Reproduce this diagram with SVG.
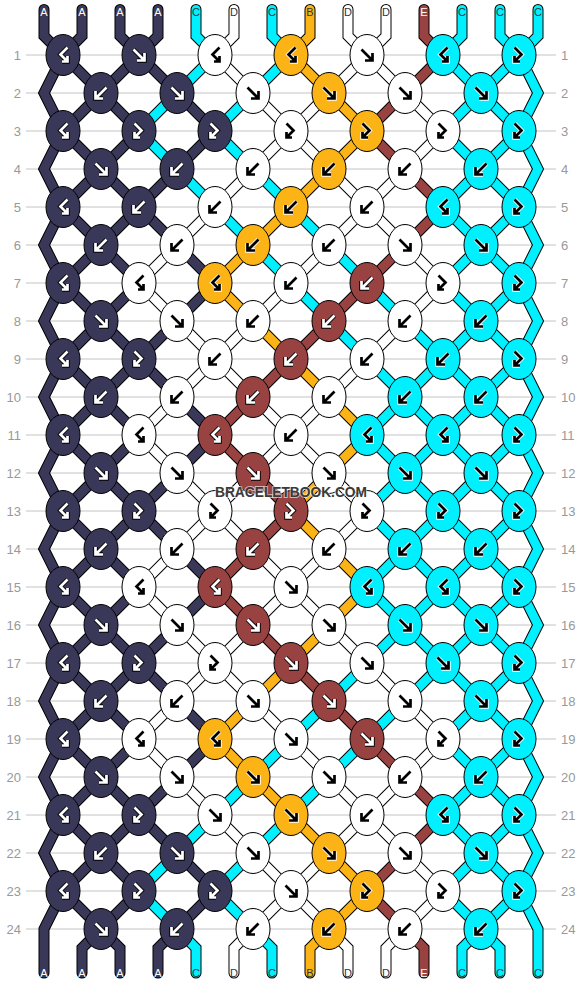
<svg xmlns="http://www.w3.org/2000/svg" xmlns:xlink="http://www.w3.org/1999/xlink" width="582" height="984" viewBox="0 0 582 984">
<style>
.ln{fill:none;stroke:#c4c4c4;stroke-width:1}
.num{font-family:"Liberation Sans",Arial,sans-serif;font-size:13px;fill:#999}
.ne{text-anchor:end}
.o{fill:none;stroke:#000;stroke-width:11;stroke-linejoin:miter;stroke-linecap:round}
.f{fill:none;stroke-width:9;stroke-linejoin:miter;stroke-linecap:round}
.cA{stroke:#3a3858}.cC{stroke:#00f0ff}.cD{stroke:#fff}.cB{stroke:#fcb316}.cE{stroke:#984242}
.k{stroke:#000;stroke-width:1}
.kA{fill:#3a3858}.kC{fill:#00f0ff}.kD{fill:#fff}.kB{fill:#fcb316}.kE{fill:#984242}
.aw{fill:none;stroke:#fff;stroke-width:2.7}
.ab{fill:none;stroke:#000;stroke-width:4.5}
.ak{fill:none;stroke:#000;stroke-width:2.7}
.awo{fill:none;stroke:#fff;stroke-width:4.5}
.lb{font-family:"Liberation Sans",Arial,sans-serif;font-size:11px;text-anchor:middle}
.lw{fill:#fff}.lk{fill:#333}
.wm{font-family:"Liberation Sans",Arial,sans-serif;font-weight:bold;font-size:14px;text-anchor:middle;fill:#3a3a3a;stroke:#fff;stroke-width:2;stroke-opacity:0.6;paint-order:stroke}
</style>
<defs>
<ellipse id="eA" class="k kA" rx="17" ry="20.5"/>
<ellipse id="eC" class="k kC" rx="17" ry="20.5"/>
<ellipse id="eD" class="k kD" rx="17" ry="20.5"/>
<ellipse id="eB" class="k kB" rx="17" ry="20.5"/>
<ellipse id="eE" class="k kE" rx="17" ry="20.5"/>
<path id="pF" d="M-5.5-5.5L5.5 5.5M5.5-2V5.5H-2"/>
<path id="pB" d="M5.5-5.5L-5.5 5.5M-5.5-2V5.5H2"/>
<path id="pFB" d="M-4.5-7.5L2.5-0.5L-4.5 6.5M-4.5 1V6.5H1"/>
<path id="pBF" d="M4.5-7.5L-2.5-0.5L4.5 6.5M4.5 1V6.5H-1"/>
<g id="Fw"><use href="#pF" class="ab"/><use href="#pF" class="aw"/></g>
<g id="Bw"><use href="#pB" class="ab"/><use href="#pB" class="aw"/></g>
<g id="FBw"><use href="#pFB" class="ab"/><use href="#pFB" class="aw"/></g>
<g id="BFw"><use href="#pBF" class="ab"/><use href="#pBF" class="aw"/></g>
<g id="Fk"><use href="#pF" class="awo"/><use href="#pF" class="ak"/></g>
<g id="Bk"><use href="#pB" class="awo"/><use href="#pB" class="ak"/></g>
<g id="FBk"><use href="#pFB" class="awo"/><use href="#pFB" class="ak"/></g>
<g id="BFk"><use href="#pBF" class="awo"/><use href="#pBF" class="ak"/></g>
<polyline id="t0" points="44,9.5 44,36 63,55 44,93 63,131 44,169 63,207 44,245 63,283 44,321 63,359 44,397 63,435 44,473 63,511 44,549 63,587 44,625 63,663 44,701 63,739 44,777 63,815 44,853 63,891 44,929 44,973"/>
<polyline id="t1" points="82,9.5 82,36 63,55 101,93 139,131 101,169 63,207 101,245 139,283 101,321 63,359 101,397 139,435 101,473 63,511 101,549 139,587 101,625 63,663 101,701 139,739 101,777 63,815 101,853 139,891 101,929 82,948 82,973"/>
<polyline id="t2" points="120,9.5 120,36 139,55 177,93 215,131 177,169 139,207 101,245 63,283 101,321 139,359 101,397 63,435 101,473 139,511 101,549 63,587 101,625 139,663 101,701 63,739 101,777 139,815 101,853 63,891 101,929 120,948 120,973"/>
<polyline id="t3" points="158,9.5 158,36 139,55 101,93 63,131 101,169 139,207 177,245 215,283 177,321 139,359 177,397 215,435 177,473 139,511 177,549 215,587 177,625 139,663 177,701 215,739 177,777 139,815 177,853 215,891 177,929 158,948 158,973"/>
<polyline id="t4" points="196,9.5 196,36 215,55 177,93 139,131 177,169 215,207 253,245 291,283 329,321 367,359 405,397 443,435 405,473 367,511 405,549 443,587 405,625 367,663 329,701 291,739 253,777 215,815 177,853 139,891 177,929 196,948 196,973"/>
<polyline id="t5" points="234,9.5 234,36 215,55 253,93 291,131 253,169 215,207 177,245 139,283 177,321 215,359 253,397 291,435 329,473 367,511 329,549 291,587 253,625 215,663 253,701 291,739 329,777 367,815 405,853 443,891 405,929 386,948 386,973"/>
<polyline id="t6" points="272,9.5 272,36 291,55 253,93 215,131 253,169 291,207 329,245 367,283 405,321 443,359 481,397 519,435 481,473 443,511 481,549 519,587 481,625 443,663 405,701 367,739 329,777 291,815 253,853 215,891 253,929 272,948 272,973"/>
<polyline id="t7" points="310,9.5 310,36 291,55 329,93 367,131 329,169 291,207 253,245 215,283 253,321 291,359 329,397 367,435 329,473 291,511 329,549 367,587 329,625 291,663 253,701 215,739 253,777 291,815 329,853 367,891 329,929 310,948 310,973"/>
<polyline id="t8" points="348,9.5 348,36 367,55 405,93 443,131 405,169 367,207 329,245 291,283 253,321 215,359 177,397 139,435 177,473 215,511 177,549 139,587 177,625 215,663 177,701 139,739 177,777 215,815 253,853 291,891 329,929 348,948 348,973"/>
<polyline id="t9" points="386,9.5 386,36 367,55 329,93 291,131 329,169 367,207 405,245 443,283 405,321 367,359 329,397 291,435 253,473 215,511 253,549 291,587 329,625 367,663 405,701 443,739 405,777 367,815 329,853 291,891 253,929 234,948 234,973"/>
<polyline id="t10" points="424,9.5 424,36 443,55 405,93 367,131 405,169 443,207 405,245 367,283 329,321 291,359 253,397 215,435 253,473 291,511 253,549 215,587 253,625 291,663 329,701 367,739 405,777 443,815 405,853 367,891 405,929 424,948 424,973"/>
<polyline id="t11" points="462,9.5 462,36 443,55 481,93 519,131 481,169 443,207 481,245 519,283 481,321 443,359 405,397 367,435 405,473 443,511 405,549 367,587 405,625 443,663 481,701 519,739 481,777 443,815 481,853 519,891 481,929 462,948 462,973"/>
<polyline id="t12" points="500,9.5 500,36 519,55 481,93 443,131 481,169 519,207 481,245 443,283 481,321 519,359 481,397 443,435 481,473 519,511 481,549 443,587 481,625 519,663 481,701 443,739 481,777 519,815 481,853 443,891 481,929 500,948 500,973"/>
<polyline id="t13" points="538,9.5 538,36 519,55 538,93 519,131 538,169 519,207 538,245 519,283 538,321 519,359 538,397 519,435 538,473 519,511 538,549 519,587 538,625 519,663 538,701 519,739 538,777 519,815 538,853 519,891 538,929 538,973"/>
</defs>
<rect width="582" height="984" fill="#fff"/>
<path class="ln" d="M26 55H556M26 93H556M26 131H556M26 169H556M26 207H556M26 245H556M26 283H556M26 321H556M26 359H556M26 397H556M26 435H556M26 473H556M26 511H556M26 549H556M26 587H556M26 625H556M26 663H556M26 701H556M26 739H556M26 777H556M26 815H556M26 853H556M26 891H556M26 929H556"/>
<g id="rownumbers">
<text class="num ne" x="21" y="59.5">1</text><text class="num" x="561" y="59.5">1</text>
<text class="num ne" x="21" y="97.5">2</text><text class="num" x="561" y="97.5">2</text>
<text class="num ne" x="21" y="135.5">3</text><text class="num" x="561" y="135.5">3</text>
<text class="num ne" x="21" y="173.5">4</text><text class="num" x="561" y="173.5">4</text>
<text class="num ne" x="21" y="211.5">5</text><text class="num" x="561" y="211.5">5</text>
<text class="num ne" x="21" y="249.5">6</text><text class="num" x="561" y="249.5">6</text>
<text class="num ne" x="21" y="287.5">7</text><text class="num" x="561" y="287.5">7</text>
<text class="num ne" x="21" y="325.5">8</text><text class="num" x="561" y="325.5">8</text>
<text class="num ne" x="21" y="363.5">9</text><text class="num" x="561" y="363.5">9</text>
<text class="num ne" x="21" y="401.5">10</text><text class="num" x="561" y="401.5">10</text>
<text class="num ne" x="21" y="439.5">11</text><text class="num" x="561" y="439.5">11</text>
<text class="num ne" x="21" y="477.5">12</text><text class="num" x="561" y="477.5">12</text>
<text class="num ne" x="21" y="515.5">13</text><text class="num" x="561" y="515.5">13</text>
<text class="num ne" x="21" y="553.5">14</text><text class="num" x="561" y="553.5">14</text>
<text class="num ne" x="21" y="591.5">15</text><text class="num" x="561" y="591.5">15</text>
<text class="num ne" x="21" y="629.5">16</text><text class="num" x="561" y="629.5">16</text>
<text class="num ne" x="21" y="667.5">17</text><text class="num" x="561" y="667.5">17</text>
<text class="num ne" x="21" y="705.5">18</text><text class="num" x="561" y="705.5">18</text>
<text class="num ne" x="21" y="743.5">19</text><text class="num" x="561" y="743.5">19</text>
<text class="num ne" x="21" y="781.5">20</text><text class="num" x="561" y="781.5">20</text>
<text class="num ne" x="21" y="819.5">21</text><text class="num" x="561" y="819.5">21</text>
<text class="num ne" x="21" y="857.5">22</text><text class="num" x="561" y="857.5">22</text>
<text class="num ne" x="21" y="895.5">23</text><text class="num" x="561" y="895.5">23</text>
<text class="num ne" x="21" y="933.5">24</text><text class="num" x="561" y="933.5">24</text>
</g>
<g id="connectors">
<use href="#t0" class="o"/><use href="#t1" class="o"/><use href="#t2" class="o"/><use href="#t3" class="o"/><use href="#t4" class="o"/><use href="#t5" class="o"/><use href="#t6" class="o"/><use href="#t7" class="o"/><use href="#t8" class="o"/><use href="#t9" class="o"/><use href="#t10" class="o"/><use href="#t11" class="o"/><use href="#t12" class="o"/><use href="#t13" class="o"/>
<use href="#t0" class="f cA"/><use href="#t1" class="f cA"/><use href="#t2" class="f cA"/><use href="#t3" class="f cA"/><use href="#t4" class="f cC"/><use href="#t5" class="f cD"/><use href="#t6" class="f cC"/><use href="#t7" class="f cB"/><use href="#t8" class="f cD"/><use href="#t9" class="f cD"/><use href="#t10" class="f cE"/><use href="#t11" class="f cC"/><use href="#t12" class="f cC"/><use href="#t13" class="f cC"/>
</g>
<g id="labels">
<text class="lb lw" x="44" y="16">A</text><text class="lb lw" x="82" y="16">A</text><text class="lb lw" x="120" y="16">A</text><text class="lb lw" x="158" y="16">A</text><text class="lb lk" x="196" y="16">C</text><text class="lb lk" x="234" y="16">D</text><text class="lb lk" x="272" y="16">C</text><text class="lb lk" x="310" y="16">B</text><text class="lb lk" x="348" y="16">D</text><text class="lb lk" x="386" y="16">D</text><text class="lb lw" x="424" y="16">E</text><text class="lb lk" x="462" y="16">C</text><text class="lb lk" x="500" y="16">C</text><text class="lb lk" x="538" y="16">C</text>
<text class="lb lw" x="44" y="976.5">A</text><text class="lb lw" x="82" y="976.5">A</text><text class="lb lw" x="120" y="976.5">A</text><text class="lb lw" x="158" y="976.5">A</text><text class="lb lk" x="196" y="976.5">C</text><text class="lb lk" x="234" y="976.5">D</text><text class="lb lk" x="272" y="976.5">C</text><text class="lb lk" x="310" y="976.5">B</text><text class="lb lk" x="348" y="976.5">D</text><text class="lb lk" x="386" y="976.5">D</text><text class="lb lw" x="424" y="976.5">E</text><text class="lb lk" x="462" y="976.5">C</text><text class="lb lk" x="500" y="976.5">C</text><text class="lb lk" x="538" y="976.5">C</text>
</g>
<g id="knots">
<g id="k1-1" transform="translate(63 55)"><use href="#eA"/><use href="#BFw"/></g>
<g id="k1-2" transform="translate(139 55)"><use href="#eA"/><use href="#Fw"/></g>
<g id="k1-3" transform="translate(215 55)"><use href="#eD"/><use href="#BFk"/></g>
<g id="k1-4" transform="translate(291 55)"><use href="#eB"/><use href="#BFk"/></g>
<g id="k1-5" transform="translate(367 55)"><use href="#eD"/><use href="#Fk"/></g>
<g id="k1-6" transform="translate(443 55)"><use href="#eC"/><use href="#BFk"/></g>
<g id="k1-7" transform="translate(519 55)"><use href="#eC"/><use href="#FBk"/></g>
<g id="k2-1" transform="translate(101 93)"><use href="#eA"/><use href="#Bw"/></g>
<g id="k2-2" transform="translate(177 93)"><use href="#eA"/><use href="#Fw"/></g>
<g id="k2-3" transform="translate(253 93)"><use href="#eD"/><use href="#Fk"/></g>
<g id="k2-4" transform="translate(329 93)"><use href="#eB"/><use href="#Fk"/></g>
<g id="k2-5" transform="translate(405 93)"><use href="#eD"/><use href="#Fk"/></g>
<g id="k2-6" transform="translate(481 93)"><use href="#eC"/><use href="#Fk"/></g>
<g id="k3-1" transform="translate(63 131)"><use href="#eA"/><use href="#BFw"/></g>
<g id="k3-2" transform="translate(139 131)"><use href="#eA"/><use href="#FBw"/></g>
<g id="k3-3" transform="translate(215 131)"><use href="#eA"/><use href="#FBw"/></g>
<g id="k3-4" transform="translate(291 131)"><use href="#eD"/><use href="#FBk"/></g>
<g id="k3-5" transform="translate(367 131)"><use href="#eB"/><use href="#FBk"/></g>
<g id="k3-6" transform="translate(443 131)"><use href="#eD"/><use href="#FBk"/></g>
<g id="k3-7" transform="translate(519 131)"><use href="#eC"/><use href="#FBk"/></g>
<g id="k4-1" transform="translate(101 169)"><use href="#eA"/><use href="#Fw"/></g>
<g id="k4-2" transform="translate(177 169)"><use href="#eA"/><use href="#Bw"/></g>
<g id="k4-3" transform="translate(253 169)"><use href="#eD"/><use href="#Bk"/></g>
<g id="k4-4" transform="translate(329 169)"><use href="#eB"/><use href="#Bk"/></g>
<g id="k4-5" transform="translate(405 169)"><use href="#eD"/><use href="#Bk"/></g>
<g id="k4-6" transform="translate(481 169)"><use href="#eC"/><use href="#Bk"/></g>
<g id="k5-1" transform="translate(63 207)"><use href="#eA"/><use href="#BFw"/></g>
<g id="k5-2" transform="translate(139 207)"><use href="#eA"/><use href="#Bw"/></g>
<g id="k5-3" transform="translate(215 207)"><use href="#eD"/><use href="#Bk"/></g>
<g id="k5-4" transform="translate(291 207)"><use href="#eB"/><use href="#Bk"/></g>
<g id="k5-5" transform="translate(367 207)"><use href="#eD"/><use href="#Bk"/></g>
<g id="k5-6" transform="translate(443 207)"><use href="#eC"/><use href="#BFk"/></g>
<g id="k5-7" transform="translate(519 207)"><use href="#eC"/><use href="#FBk"/></g>
<g id="k6-1" transform="translate(101 245)"><use href="#eA"/><use href="#Bw"/></g>
<g id="k6-2" transform="translate(177 245)"><use href="#eD"/><use href="#Bk"/></g>
<g id="k6-3" transform="translate(253 245)"><use href="#eB"/><use href="#Bk"/></g>
<g id="k6-4" transform="translate(329 245)"><use href="#eD"/><use href="#Bk"/></g>
<g id="k6-5" transform="translate(405 245)"><use href="#eD"/><use href="#Fk"/></g>
<g id="k6-6" transform="translate(481 245)"><use href="#eC"/><use href="#Fk"/></g>
<g id="k7-1" transform="translate(63 283)"><use href="#eA"/><use href="#BFw"/></g>
<g id="k7-2" transform="translate(139 283)"><use href="#eD"/><use href="#BFk"/></g>
<g id="k7-3" transform="translate(215 283)"><use href="#eB"/><use href="#BFk"/></g>
<g id="k7-4" transform="translate(291 283)"><use href="#eD"/><use href="#Bk"/></g>
<g id="k7-5" transform="translate(367 283)"><use href="#eE"/><use href="#Bw"/></g>
<g id="k7-6" transform="translate(443 283)"><use href="#eD"/><use href="#FBk"/></g>
<g id="k7-7" transform="translate(519 283)"><use href="#eC"/><use href="#FBk"/></g>
<g id="k8-1" transform="translate(101 321)"><use href="#eA"/><use href="#Fw"/></g>
<g id="k8-2" transform="translate(177 321)"><use href="#eD"/><use href="#Fk"/></g>
<g id="k8-3" transform="translate(253 321)"><use href="#eD"/><use href="#Bk"/></g>
<g id="k8-4" transform="translate(329 321)"><use href="#eE"/><use href="#Bw"/></g>
<g id="k8-5" transform="translate(405 321)"><use href="#eD"/><use href="#Bk"/></g>
<g id="k8-6" transform="translate(481 321)"><use href="#eC"/><use href="#Bk"/></g>
<g id="k9-1" transform="translate(63 359)"><use href="#eA"/><use href="#BFw"/></g>
<g id="k9-2" transform="translate(139 359)"><use href="#eA"/><use href="#FBw"/></g>
<g id="k9-3" transform="translate(215 359)"><use href="#eD"/><use href="#Bk"/></g>
<g id="k9-4" transform="translate(291 359)"><use href="#eE"/><use href="#Bw"/></g>
<g id="k9-5" transform="translate(367 359)"><use href="#eD"/><use href="#Bk"/></g>
<g id="k9-6" transform="translate(443 359)"><use href="#eC"/><use href="#Bk"/></g>
<g id="k9-7" transform="translate(519 359)"><use href="#eC"/><use href="#FBk"/></g>
<g id="k10-1" transform="translate(101 397)"><use href="#eA"/><use href="#Bw"/></g>
<g id="k10-2" transform="translate(177 397)"><use href="#eD"/><use href="#Bk"/></g>
<g id="k10-3" transform="translate(253 397)"><use href="#eE"/><use href="#Bw"/></g>
<g id="k10-4" transform="translate(329 397)"><use href="#eD"/><use href="#Bk"/></g>
<g id="k10-5" transform="translate(405 397)"><use href="#eC"/><use href="#Bk"/></g>
<g id="k10-6" transform="translate(481 397)"><use href="#eC"/><use href="#Bk"/></g>
<g id="k11-1" transform="translate(63 435)"><use href="#eA"/><use href="#BFw"/></g>
<g id="k11-2" transform="translate(139 435)"><use href="#eD"/><use href="#BFk"/></g>
<g id="k11-3" transform="translate(215 435)"><use href="#eE"/><use href="#BFw"/></g>
<g id="k11-4" transform="translate(291 435)"><use href="#eD"/><use href="#Bk"/></g>
<g id="k11-5" transform="translate(367 435)"><use href="#eC"/><use href="#BFk"/></g>
<g id="k11-6" transform="translate(443 435)"><use href="#eC"/><use href="#BFk"/></g>
<g id="k11-7" transform="translate(519 435)"><use href="#eC"/><use href="#FBk"/></g>
<g id="k12-1" transform="translate(101 473)"><use href="#eA"/><use href="#Fw"/></g>
<g id="k12-2" transform="translate(177 473)"><use href="#eD"/><use href="#Fk"/></g>
<g id="k12-3" transform="translate(253 473)"><use href="#eE"/><use href="#Fw"/></g>
<g id="k12-4" transform="translate(329 473)"><use href="#eD"/><use href="#Fk"/></g>
<g id="k12-5" transform="translate(405 473)"><use href="#eC"/><use href="#Fk"/></g>
<g id="k12-6" transform="translate(481 473)"><use href="#eC"/><use href="#Fk"/></g>
<g id="k13-1" transform="translate(63 511)"><use href="#eA"/><use href="#BFw"/></g>
<g id="k13-2" transform="translate(139 511)"><use href="#eA"/><use href="#FBw"/></g>
<g id="k13-3" transform="translate(215 511)"><use href="#eD"/><use href="#FBk"/></g>
<g id="k13-4" transform="translate(291 511)"><use href="#eE"/><use href="#FBw"/></g>
<g id="k13-5" transform="translate(367 511)"><use href="#eD"/><use href="#FBk"/></g>
<g id="k13-6" transform="translate(443 511)"><use href="#eC"/><use href="#FBk"/></g>
<g id="k13-7" transform="translate(519 511)"><use href="#eC"/><use href="#FBk"/></g>
<g id="k14-1" transform="translate(101 549)"><use href="#eA"/><use href="#Bw"/></g>
<g id="k14-2" transform="translate(177 549)"><use href="#eD"/><use href="#Bk"/></g>
<g id="k14-3" transform="translate(253 549)"><use href="#eE"/><use href="#Bw"/></g>
<g id="k14-4" transform="translate(329 549)"><use href="#eD"/><use href="#Bk"/></g>
<g id="k14-5" transform="translate(405 549)"><use href="#eC"/><use href="#Bk"/></g>
<g id="k14-6" transform="translate(481 549)"><use href="#eC"/><use href="#Bk"/></g>
<g id="k15-1" transform="translate(63 587)"><use href="#eA"/><use href="#BFw"/></g>
<g id="k15-2" transform="translate(139 587)"><use href="#eD"/><use href="#BFk"/></g>
<g id="k15-3" transform="translate(215 587)"><use href="#eE"/><use href="#BFw"/></g>
<g id="k15-4" transform="translate(291 587)"><use href="#eD"/><use href="#Fk"/></g>
<g id="k15-5" transform="translate(367 587)"><use href="#eC"/><use href="#BFk"/></g>
<g id="k15-6" transform="translate(443 587)"><use href="#eC"/><use href="#BFk"/></g>
<g id="k15-7" transform="translate(519 587)"><use href="#eC"/><use href="#FBk"/></g>
<g id="k16-1" transform="translate(101 625)"><use href="#eA"/><use href="#Fw"/></g>
<g id="k16-2" transform="translate(177 625)"><use href="#eD"/><use href="#Fk"/></g>
<g id="k16-3" transform="translate(253 625)"><use href="#eE"/><use href="#Fw"/></g>
<g id="k16-4" transform="translate(329 625)"><use href="#eD"/><use href="#Fk"/></g>
<g id="k16-5" transform="translate(405 625)"><use href="#eC"/><use href="#Fk"/></g>
<g id="k16-6" transform="translate(481 625)"><use href="#eC"/><use href="#Fk"/></g>
<g id="k17-1" transform="translate(63 663)"><use href="#eA"/><use href="#BFw"/></g>
<g id="k17-2" transform="translate(139 663)"><use href="#eA"/><use href="#FBw"/></g>
<g id="k17-3" transform="translate(215 663)"><use href="#eD"/><use href="#FBk"/></g>
<g id="k17-4" transform="translate(291 663)"><use href="#eE"/><use href="#Fw"/></g>
<g id="k17-5" transform="translate(367 663)"><use href="#eD"/><use href="#Fk"/></g>
<g id="k17-6" transform="translate(443 663)"><use href="#eC"/><use href="#Fk"/></g>
<g id="k17-7" transform="translate(519 663)"><use href="#eC"/><use href="#FBk"/></g>
<g id="k18-1" transform="translate(101 701)"><use href="#eA"/><use href="#Bw"/></g>
<g id="k18-2" transform="translate(177 701)"><use href="#eD"/><use href="#Bk"/></g>
<g id="k18-3" transform="translate(253 701)"><use href="#eD"/><use href="#Fk"/></g>
<g id="k18-4" transform="translate(329 701)"><use href="#eE"/><use href="#Fw"/></g>
<g id="k18-5" transform="translate(405 701)"><use href="#eD"/><use href="#Fk"/></g>
<g id="k18-6" transform="translate(481 701)"><use href="#eC"/><use href="#Fk"/></g>
<g id="k19-1" transform="translate(63 739)"><use href="#eA"/><use href="#BFw"/></g>
<g id="k19-2" transform="translate(139 739)"><use href="#eD"/><use href="#BFk"/></g>
<g id="k19-3" transform="translate(215 739)"><use href="#eB"/><use href="#BFk"/></g>
<g id="k19-4" transform="translate(291 739)"><use href="#eD"/><use href="#Fk"/></g>
<g id="k19-5" transform="translate(367 739)"><use href="#eE"/><use href="#Fw"/></g>
<g id="k19-6" transform="translate(443 739)"><use href="#eD"/><use href="#FBk"/></g>
<g id="k19-7" transform="translate(519 739)"><use href="#eC"/><use href="#FBk"/></g>
<g id="k20-1" transform="translate(101 777)"><use href="#eA"/><use href="#Fw"/></g>
<g id="k20-2" transform="translate(177 777)"><use href="#eD"/><use href="#Fk"/></g>
<g id="k20-3" transform="translate(253 777)"><use href="#eB"/><use href="#Fk"/></g>
<g id="k20-4" transform="translate(329 777)"><use href="#eD"/><use href="#Fk"/></g>
<g id="k20-5" transform="translate(405 777)"><use href="#eD"/><use href="#Bk"/></g>
<g id="k20-6" transform="translate(481 777)"><use href="#eC"/><use href="#Bk"/></g>
<g id="k21-1" transform="translate(63 815)"><use href="#eA"/><use href="#BFw"/></g>
<g id="k21-2" transform="translate(139 815)"><use href="#eA"/><use href="#FBw"/></g>
<g id="k21-3" transform="translate(215 815)"><use href="#eD"/><use href="#Fk"/></g>
<g id="k21-4" transform="translate(291 815)"><use href="#eB"/><use href="#Fk"/></g>
<g id="k21-5" transform="translate(367 815)"><use href="#eD"/><use href="#Bk"/></g>
<g id="k21-6" transform="translate(443 815)"><use href="#eC"/><use href="#BFk"/></g>
<g id="k21-7" transform="translate(519 815)"><use href="#eC"/><use href="#FBk"/></g>
<g id="k22-1" transform="translate(101 853)"><use href="#eA"/><use href="#Bw"/></g>
<g id="k22-2" transform="translate(177 853)"><use href="#eA"/><use href="#Fw"/></g>
<g id="k22-3" transform="translate(253 853)"><use href="#eD"/><use href="#Fk"/></g>
<g id="k22-4" transform="translate(329 853)"><use href="#eB"/><use href="#Fk"/></g>
<g id="k22-5" transform="translate(405 853)"><use href="#eD"/><use href="#Fk"/></g>
<g id="k22-6" transform="translate(481 853)"><use href="#eC"/><use href="#Fk"/></g>
<g id="k23-1" transform="translate(63 891)"><use href="#eA"/><use href="#BFw"/></g>
<g id="k23-2" transform="translate(139 891)"><use href="#eA"/><use href="#FBw"/></g>
<g id="k23-3" transform="translate(215 891)"><use href="#eA"/><use href="#FBw"/></g>
<g id="k23-4" transform="translate(291 891)"><use href="#eD"/><use href="#Fk"/></g>
<g id="k23-5" transform="translate(367 891)"><use href="#eB"/><use href="#FBk"/></g>
<g id="k23-6" transform="translate(443 891)"><use href="#eD"/><use href="#FBk"/></g>
<g id="k23-7" transform="translate(519 891)"><use href="#eC"/><use href="#FBk"/></g>
<g id="k24-1" transform="translate(101 929)"><use href="#eA"/><use href="#Fw"/></g>
<g id="k24-2" transform="translate(177 929)"><use href="#eA"/><use href="#Bw"/></g>
<g id="k24-3" transform="translate(253 929)"><use href="#eD"/><use href="#Bk"/></g>
<g id="k24-4" transform="translate(329 929)"><use href="#eB"/><use href="#Bk"/></g>
<g id="k24-5" transform="translate(405 929)"><use href="#eD"/><use href="#Bk"/></g>
<g id="k24-6" transform="translate(481 929)"><use href="#eC"/><use href="#Bk"/></g>
</g>
<text class="wm" x="291" y="497" textLength="152" lengthAdjust="spacingAndGlyphs">BRACELETBOOK.COM</text>
</svg>
